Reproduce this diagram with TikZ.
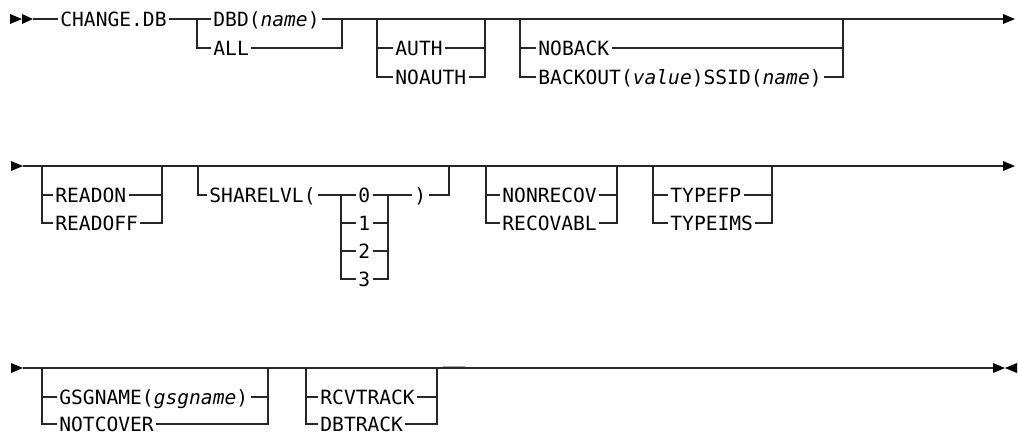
\documentclass[tikz,border=0pt]{standalone}
\usepackage{fontspec}
\setmainfont{DejaVu Sans Mono}
\usetikzlibrary{calc, positioning}
\tikzset{
  % Syntax rail
  rail/.style={line width=0.9pt, draw=black!85},
  % Keyword text
  kw/.style={font=\fontsize{14.7pt}{16pt}\selectfont, inner xsep=1.6pt, inner ysep=0pt,
             text height=10.7pt, text depth=0pt, anchor=west},
  % Arrow heads
  tip/.style={fill=black},
}

\begin{document}
\begin{tikzpicture}[x=0.75pt, y=-0.75pt]
  \useasboundingbox (0,0) rectangle (1018,436);

  % --- ROW 1 ---
  \begin{scope}[shift={(0,19)}]
    \fill[tip] (10,-5) -- (22,0) -- (10,5) -- cycle;
    \fill[tip] (22,-5) -- (33,0) -- (22,5) -- cycle;
    \coordinate (r1s) at (33,0);
    \coordinate (r1e) at (1003,0);
    \node[kw] (chg) at (58,0) {CHANGE.DB};
    \node[kw] (dbd) at (211,0) {DBD(\textit{name})};
    \node[kw] (all) at (211,29) {ALL};
    \node[kw] (auth) at (393,29) {AUTH};
    \node[kw] (noauth) at (393,58) {NOAUTH};
    \node[kw] (noback) at (536,29) {NOBACK};
    \node[kw] (backout) at (536,58) {BACKOUT(\textit{value})SSID(\textit{name})};

    \draw[rail] (r1s) -- (chg.west);
    \draw[rail] (chg.east) -- (dbd.west);
    \draw[rail] (dbd.east) -- (r1e);
    \draw[rail] (197,0) |- (all.west);
    \draw[rail] (all.east) -| (342,0);
    % auth / noauth
    \draw[rail] (377,0) |- (noauth.west);
    \draw[rail] (377,29) -- (auth.west);
    \draw[rail] (auth.east) -- (485,29);
    \draw[rail] (noauth.east) -| (485,0);
    % noback / backout
    \draw[rail] (520,0) |- (backout.west);
    \draw[rail] (520,29) -- (noback.west);
    \draw[rail] (noback.east) -- (843,29);
    \draw[rail] (backout.east) -| (843,0);
    \fill[tip] (r1e) ++(0,-5) -- (1015,0) -- (1003,5) -- cycle;
  \end{scope}

  % --- ROW 2 ---
  \begin{scope}[shift={(0,166)}]
    \fill[tip] (11,-5) -- (23,0) -- (11,5) -- cycle;
    \coordinate (r2s) at (23,0);
    \coordinate (r2e) at (1003,0);
    \draw[rail] (r2s) -- (r2e);
    \node[kw] (readon) at (53,29) {READON};
    \node[kw] (readoff) at (53,57) {READOFF};
    \node[kw] (share) at (207,29) {SHARELVL(};
    \node[kw] (lv0) at (356,29) {0};
    \node[kw] (lv1) at (356,57) {1};
    \node[kw] (lv2) at (356,85) {2};
    \node[kw] (lv3) at (356,113) {3};
    \node[kw] (rpar) at (412,29) {)};
    \node[kw] (nonrec) at (500,29) {NONRECOV};
    \node[kw] (recov) at (500,57) {RECOVABL};
    \node[kw] (typefp) at (668,29) {TYPEFP};
    \node[kw] (typeims) at (668,57) {TYPEIMS};

    % readon / readoff
    \draw[rail] (42,0) |- (readoff.west);
    \draw[rail] (42,29) -- (readon.west);
    \draw[rail] (readon.east) -- (162,29);
    \draw[rail] (readoff.east) -| (162,0);
    % sharelvl
    \draw[rail] (198,0) |- (share.west);
    \draw[rail] (share.east) -- (lv0.west);
    \draw[rail] (341,29) |- (lv3.west);
    \draw[rail] (341,57) -- (lv1.west);
    \draw[rail] (341,85) -- (lv2.west);
    \draw[rail] (lv0.east) -- (rpar.west);
    \draw[rail] (lv1.east) -- (388,57);
    \draw[rail] (lv2.east) -- (388,85);
    \draw[rail] (lv3.east) -| (388,29);
    \draw[rail] (rpar.east) -| (449,0);
    % nonrecov / recovabl
    \draw[rail] (486,0) |- (recov.west);
    \draw[rail] (486,29) -- (nonrec.west);
    \draw[rail] (nonrec.east) -- (617,29);
    \draw[rail] (recov.east) -| (617,0);
    % typefp / typeims
    \draw[rail] (653,0) |- (typeims.west);
    \draw[rail] (653,29) -- (typefp.west);
    \draw[rail] (typefp.east) -- (772,29);
    \draw[rail] (typeims.east) -| (772,0);
    \fill[tip] (1003,-5) -- (1015,0) -- (1003,5) -- cycle;
  \end{scope}

  % --- ROW 3 ---
  \begin{scope}[shift={(0,368)}]
    \fill[tip] (11,-5) -- (23,0) -- (11,5) -- cycle;
    \coordinate (r3s) at (23,0);
    \coordinate (r3e) at (993,0);
    \draw[rail] (r3s) -- (r3e);
    \node[kw] (gsg) at (57,29) {GSGNAME(\textit{gsgname})};
    \node[kw] (notcov) at (57,56) {NOTCOVER};
    \node[kw] (rcv) at (318,29) {RCVTRACK};
    \node[kw] (dbtr) at (318,56) {DBTRACK};

    % gsgname / notcover
    \draw[rail] (42,0) |- (notcov.west);
    \draw[rail] (42,29) -- (gsg.west);
    \draw[rail] (gsg.east) -- (268,29);
    \draw[rail] (notcov.east) -| (268,0);
    % rcvtrack / dbtrack
    \draw[rail] (306,0) |- (dbtr.west);
    \draw[rail] (306,29) -- (rcv.west);
    \draw[rail] (rcv.east) -- (437,29);
    \draw[rail] (dbtr.east) -| (437,0);
    \draw[line width=0.6pt, black!35] (443,-1.5) -- (465,-1.5);
    % end of statement
    \fill[tip] (993,-5) -- (1005,0) -- (993,5) -- cycle;
    \fill[tip] (1017,-5) -- (1005,0) -- (1017,5) -- cycle;
  \end{scope}
\end{tikzpicture}
\end{document}
